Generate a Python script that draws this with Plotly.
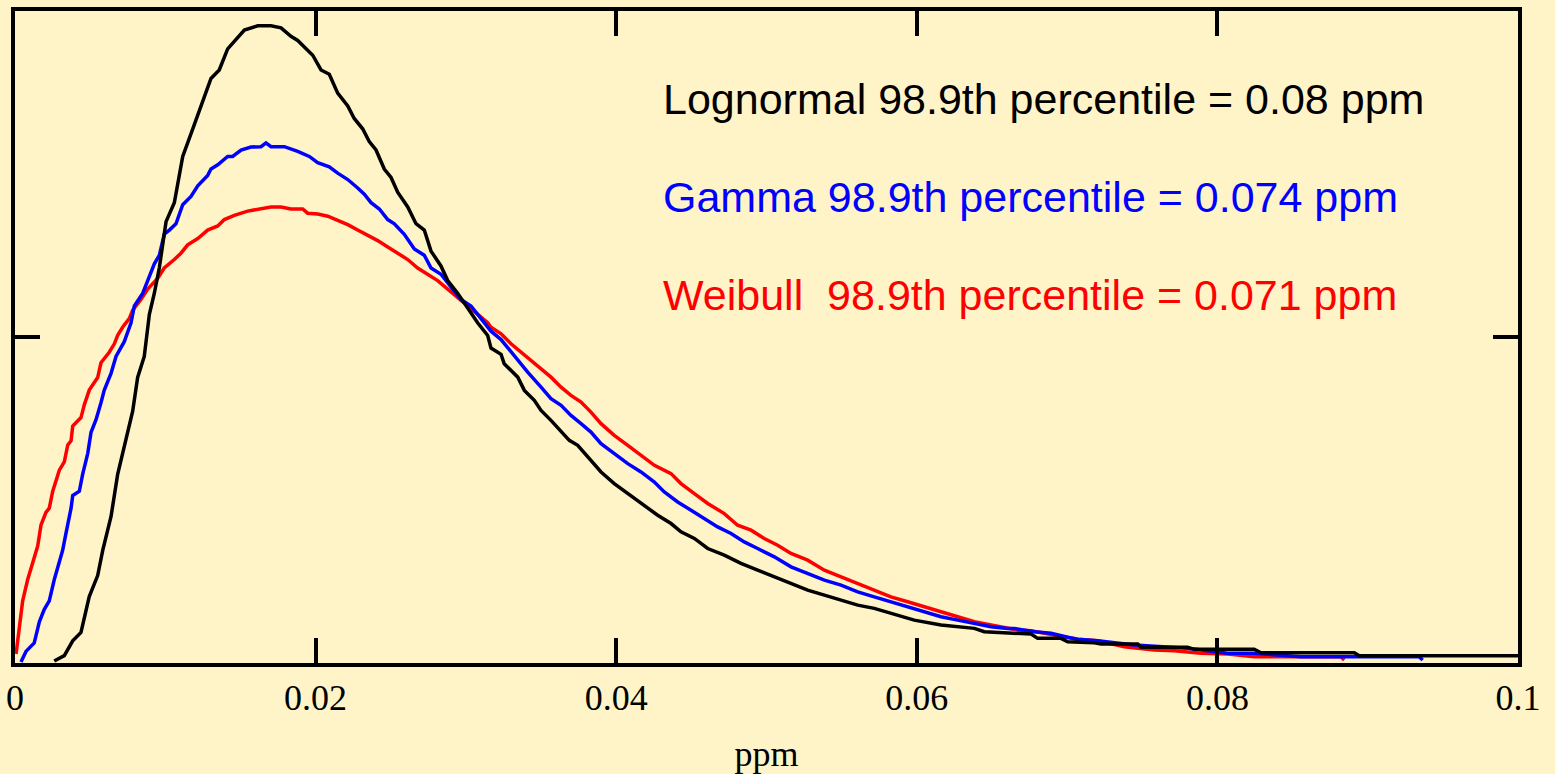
import plotly.graph_objects as go

# ---- data (x in ppm, y = relative density, axis 0..100) ----
lognormal_x = [0.00261, 0.00328, 0.00384, 0.00439, 0.00494, 0.00550, 0.00584, 0.00639, 0.00683, 0.00739,
               0.00783, 0.00816, 0.00860, 0.00894, 0.00927, 0.00960, 0.01005, 0.01060, 0.01116, 0.01193,
               0.01304, 0.01359, 0.01415, 0.01526, 0.01615, 0.01637, 0.01703, 0.01770, 0.01836, 0.01881,
               0.01947, 0.01981, 0.02036, 0.02091, 0.02147, 0.02214, 0.02257, 0.02313, 0.02357, 0.02402,
               0.02457, 0.02502, 0.02546, 0.02613, 0.02668, 0.02723, 0.02768, 0.02834, 0.02879, 0.02945,
               0.03012, 0.03078, 0.03145, 0.03167, 0.03234, 0.03255, 0.03345, 0.03389, 0.03455, 0.03500,
               0.03566, 0.03633, 0.03688, 0.03744, 0.03810, 0.03899, 0.03987, 0.04077, 0.04165, 0.04276,
               0.04365, 0.04431, 0.04520, 0.04609, 0.04719, 0.04830, 0.04941, 0.05052, 0.05163, 0.05274,
               0.05385, 0.05496, 0.05607, 0.05717, 0.05828, 0.05983, 0.06161, 0.06383, 0.06449, 0.06605,
               0.06760, 0.06804, 0.06959, 0.07004, 0.07181, 0.07226, 0.07470, 0.07492, 0.07802, 0.07846,
               0.08245, 0.08290, 0.08911, 0.08944, 0.10000]
lognormal_y = [0.31, 1.13, 3.40, 4.69, 10.18, 13.41, 17.30, 22.47, 28.93, 34.09,
               38.62, 43.80, 47.01, 53.48, 56.71, 60.58, 67.69, 70.60, 77.70, 82.56,
               89.66, 90.96, 94.18, 97.09, 97.73, 97.73, 97.73, 97.41, 96.12, 95.48,
               93.87, 93.22, 90.96, 90.31, 87.40, 85.45, 83.52, 81.93, 79.97, 78.68,
               75.77, 74.47, 72.22, 69.95, 67.38, 66.40, 63.17, 60.90, 58.65, 56.71,
               54.44, 52.19, 50.23, 48.30, 47.34, 45.90, 43.84, 41.81, 40.28, 38.74,
               37.21, 35.42, 34.15, 33.38, 31.59, 29.30, 27.52, 25.99, 24.46, 22.66,
               21.39, 20.11, 19.10, 17.56, 16.54, 15.27, 14.24, 13.22, 12.21, 11.18,
               10.41, 9.65, 8.88, 8.38, 7.61, 6.58, 5.82, 5.31, 4.79, 4.55,
               4.44, 3.78, 3.78, 3.26, 3.11, 2.91, 2.91, 2.40, 2.40, 2.10,
               2.10, 1.58, 1.58, 1.12, 1.12]

gamma_x = [0.00040, 0.00073, 0.00128, 0.00162, 0.00195, 0.00228, 0.00261, 0.00317, 0.00339, 0.00373,
           0.00384, 0.00428, 0.00450, 0.00484, 0.00506, 0.00539, 0.00572, 0.00594, 0.00639, 0.00672,
           0.00727, 0.00772, 0.00794, 0.00850, 0.00883, 0.00927, 0.00960, 0.00993, 0.01027, 0.01071,
           0.01116, 0.01171, 0.01216, 0.01282, 0.01304, 0.01349, 0.01415, 0.01448, 0.01504, 0.01570,
           0.01637, 0.01670, 0.01703, 0.01792, 0.01881, 0.01958, 0.02014, 0.02091, 0.02147, 0.02214,
           0.02280, 0.02324, 0.02369, 0.02424, 0.02480, 0.02524, 0.02590, 0.02657, 0.02723, 0.02768,
           0.02834, 0.02901, 0.02967, 0.03034, 0.03100, 0.03167, 0.03234, 0.03300, 0.03367, 0.03411,
           0.03500, 0.03566, 0.03633, 0.03699, 0.03766, 0.03832, 0.03899, 0.03987, 0.04077, 0.04165,
           0.04254, 0.04320, 0.04409, 0.04498, 0.04586, 0.04675, 0.04764, 0.04852, 0.04941, 0.05052,
           0.05163, 0.05274, 0.05385, 0.05496, 0.05607, 0.05717, 0.05828, 0.05939, 0.06050, 0.06161,
           0.06272, 0.06383, 0.06494, 0.06605, 0.06649, 0.06782, 0.06893, 0.07004, 0.07070, 0.07204,
           0.07270, 0.07447, 0.07802, 0.07891, 0.08069, 0.08245, 0.08556, 0.08911, 0.09341, 0.09366]
gamma_y = [0.17, 1.78, 3.08, 6.31, 8.24, 9.54, 12.77, 17.29, 19.88, 23.75,
           25.70, 26.34, 28.93, 32.16, 35.39, 37.32, 39.91, 41.85, 44.43, 47.01,
           49.28, 52.19, 54.76, 56.71, 58.65, 61.23, 62.53, 65.76, 66.40, 67.37,
           70.28, 71.56, 73.19, 74.79, 75.77, 76.42, 77.70, 77.70, 78.68, 79.13,
           79.19, 79.77, 79.19, 79.19, 78.48, 77.70, 76.74, 76.09, 75.13, 74.15,
           72.86, 71.90, 70.60, 69.63, 68.01, 67.37, 65.76, 63.49, 62.53, 60.58,
           59.62, 57.67, 55.74, 54.76, 52.83, 50.89, 49.60, 47.67, 45.90, 44.61,
           42.31, 40.54, 39.51, 37.98, 36.71, 35.42, 33.64, 32.11, 30.58, 29.30,
           27.76, 26.23, 24.70, 23.43, 22.16, 20.87, 19.86, 18.58, 17.56, 16.28,
           14.75, 13.74, 12.71, 11.94, 10.92, 10.15, 9.39, 8.62, 7.86, 7.09,
           6.58, 6.08, 5.56, 5.31, 5.31, 4.79, 4.55, 3.94, 3.63, 3.41,
           3.26, 2.76, 2.25, 1.99, 1.49, 1.49, 0.96, 0.96, 0.96, 0.46]

weibull_x = [0.00007, 0.00029, 0.00051, 0.00084, 0.00118, 0.00151, 0.00173, 0.00206, 0.00228, 0.00251,
             0.00295, 0.00328, 0.00351, 0.00373, 0.00384, 0.00439, 0.00461, 0.00494, 0.00550, 0.00572,
             0.00627, 0.00661, 0.00683, 0.00717, 0.00760, 0.00783, 0.00838, 0.00883, 0.00949, 0.00993,
             0.01060, 0.01104, 0.01149, 0.01216, 0.01282, 0.01349, 0.01393, 0.01459, 0.01548, 0.01615,
             0.01637, 0.01703, 0.01770, 0.01836, 0.01914, 0.01947, 0.02014, 0.02081, 0.02147, 0.02214,
             0.02280, 0.02347, 0.02413, 0.02480, 0.02546, 0.02613, 0.02679, 0.02746, 0.02812, 0.02879,
             0.02945, 0.03012, 0.03078, 0.03145, 0.03167, 0.03234, 0.03300, 0.03367, 0.03433, 0.03500,
             0.03566, 0.03633, 0.03699, 0.03766, 0.03832, 0.03899, 0.03987, 0.04077, 0.04165, 0.04254,
             0.04365, 0.04431, 0.04520, 0.04609, 0.04719, 0.04808, 0.04897, 0.04985, 0.05074, 0.05163,
             0.05274, 0.05385, 0.05496, 0.05607, 0.05717, 0.05828, 0.05939, 0.06050, 0.06161, 0.06272,
             0.06383, 0.06494, 0.06605, 0.06671, 0.06760, 0.06893, 0.07070, 0.07204, 0.07381, 0.07470,
             0.07580, 0.07714, 0.07891, 0.08069, 0.08245, 0.08556, 0.08822, 0.08844]
weibull_y = [1.38, 5.01, 9.54, 12.77, 15.36, 17.93, 21.16, 23.11, 23.75, 26.34,
             29.57, 30.86, 33.45, 34.09, 36.35, 37.64, 39.59, 41.85, 43.78, 46.05,
             47.66, 48.96, 50.25, 51.53, 52.83, 54.12, 55.74, 57.35, 58.97, 60.58,
             61.88, 62.85, 64.13, 65.11, 66.40, 67.04, 68.01, 68.67, 69.31, 69.63,
             69.63, 69.95, 69.95, 69.63, 69.63, 68.99, 68.85, 68.53, 67.89, 67.24,
             66.40, 65.62, 64.78, 63.81, 62.85, 61.88, 60.58, 59.62, 58.65, 57.35,
             56.06, 54.76, 53.48, 52.19, 51.50, 50.49, 48.96, 47.67, 46.40, 45.13,
             43.84, 42.31, 41.04, 40.02, 38.48, 36.71, 34.92, 33.38, 31.85, 30.32,
             29.05, 27.52, 25.99, 24.46, 22.92, 21.13, 20.37, 19.10, 18.07, 16.80,
             15.77, 14.24, 13.22, 12.21, 11.18, 10.15, 9.39, 8.62, 7.86, 7.09,
             6.32, 5.82, 5.31, 5.05, 4.95, 4.44, 3.63, 3.41, 2.50, 2.25,
             1.99, 1.88, 1.49, 1.38, 0.96, 0.96, 0.96, 0.46]

x_tick_vals = [0, 0.02, 0.04, 0.06, 0.08, 0.1]
x_tick_text = ["0", "0.02", "0.04", "0.06", "0.08", "0.1"]
y_tick_vals = [50]

labels = ["Lognormal 98.9th percentile = 0.08 ppm",
          "Gamma 98.9th percentile = 0.074 ppm",
          "Weibull\u00a0\u00a098.9th percentile = 0.071 ppm"]
label_colors = ["#000000", "#0000FF", "#FF0000"]
label_y = [86.5, 71.4, 56.4]
label_x = 0.04298

BG = "#FFF4C8"

fig = go.Figure()
fig.add_trace(go.Scatter(x=weibull_x, y=weibull_y, mode="lines",
                         line=dict(color="#FF0000", width=3.5), name="Weibull"))
fig.add_trace(go.Scatter(x=gamma_x, y=gamma_y, mode="lines",
                         line=dict(color="#0000FF", width=3.5), name="Gamma"))
fig.add_trace(go.Scatter(x=lognormal_x, y=lognormal_y, mode="lines",
                         line=dict(color="#000000", width=3.5), name="Lognormal"))

for txt, col, yy in zip(labels, label_colors, label_y):
    fig.add_annotation(x=label_x, y=yy, xref="x", yref="y", text=txt, showarrow=False,
                       xanchor="left", yanchor="middle",
                       font=dict(family="Liberation Sans, Arial, sans-serif", size=43, color=col))

fig.update_layout(
    width=1555, height=774,
    paper_bgcolor=BG, plot_bgcolor=BG,
    margin=dict(l=15, r=37, t=11, b=111),
    showlegend=False,
    xaxis=dict(range=[0, 0.1], tickvals=x_tick_vals, ticktext=x_tick_text,
               ticks="inside", ticklen=25, tickwidth=3.5, tickcolor="black",
               showline=True, linewidth=4, linecolor="black", mirror="ticks",
               showgrid=False, zeroline=False, automargin=False,
               tickfont=dict(family="Liberation Serif, Times New Roman, serif", size=36, color="black"),
               title=dict(text="ppm", standoff=29,
                          font=dict(family="Liberation Serif, Times New Roman, serif", size=36, color="black"))),
    yaxis=dict(range=[0, 100], tickvals=y_tick_vals, showticklabels=False,
               ticks="inside", ticklen=25, tickwidth=3.5, tickcolor="black",
               showline=True, linewidth=4, linecolor="black", mirror="ticks",
               showgrid=False, zeroline=False, automargin=False),
)

fig.write_html("out.html",
               config={"displayModeBar": False},
               post_script="document.body.style.margin='0px';"
                           "document.body.style.background='" + BG + "';")
